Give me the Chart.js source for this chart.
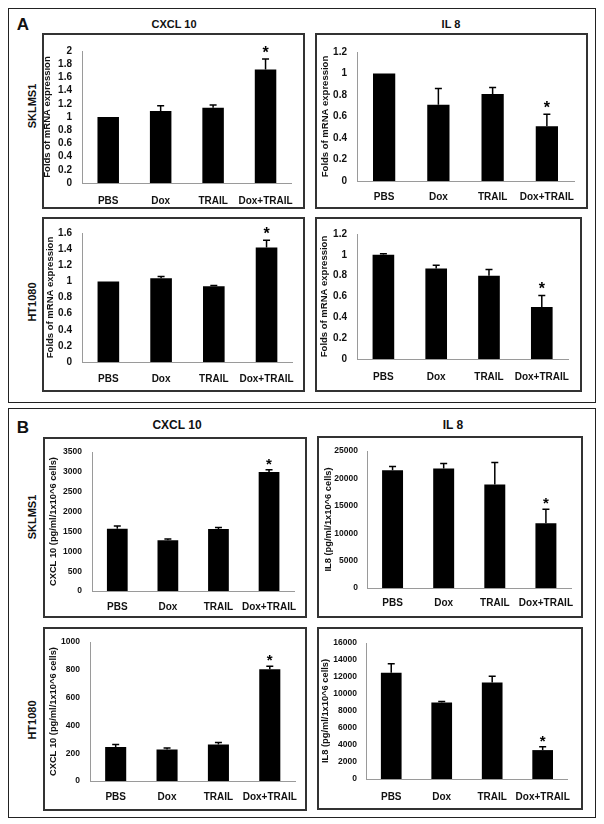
<!DOCTYPE html>
<html><head><meta charset="utf-8">
<script src="https://cdn.jsdelivr.net/npm/chart.js@4.4.0/dist/chart.umd.min.js"></script>
<style>
body{margin:0;background:#fff;width:604px;height:824px;position:relative;font-family:'Liberation Sans',Arial,sans-serif;overflow:hidden}
.frame{position:absolute;box-sizing:border-box;border:1px solid #222;}
.panel{position:absolute;box-sizing:border-box;border:2px solid #333;pointer-events:none}
canvas{position:absolute}
.txt{position:absolute;font-weight:bold;color:#111;white-space:nowrap;line-height:1;transform:translate(-50%,-50%)}
.rot{transform:translate(-50%,-50%) rotate(-90deg)}
</style></head><body>
<div class="frame" style="left:8px;top:8px;width:588px;height:395px"></div>
<div class="frame" style="left:8px;top:408px;width:588px;height:410px"></div>
<div class="txt" style="left:23px;top:24px;font-size:17px">A</div>
<div class="txt" style="left:174px;top:24px;font-size:11px">CXCL 10</div>
<div class="txt" style="left:451px;top:24px;font-size:11px">IL 8</div>
<div class="txt rot" style="left:32px;top:106px;font-size:11px">SKLMS1</div>
<div class="txt rot" style="left:32px;top:302px;font-size:11px">HT1080</div>
<div class="txt" style="left:23px;top:427px;font-size:17px">B</div>
<div class="txt" style="left:177px;top:425px;font-size:12px">CXCL 10</div>
<div class="txt" style="left:453px;top:425px;font-size:12px">IL 8</div>
<div class="txt rot" style="left:32px;top:517px;font-size:11px">SKLMS1</div>
<div class="txt rot" style="left:32px;top:720px;font-size:11px">HT1080</div>
<script>
// ---- data ----
const categories = ['PBS', 'Dox', 'TRAIL', 'Dox+TRAIL'];
const significant = [false, false, false, true];

const sklmsCxcl10Mrna    = [1.0, 1.09, 1.14, 1.72];
const sklmsCxcl10MrnaErr = [0, 0.08, 0.04, 0.16];
const sklmsIl8Mrna       = [1.0, 0.71, 0.81, 0.51];
const sklmsIl8MrnaErr    = [0, 0.15, 0.06, 0.11];
const htCxcl10Mrna       = [1.0, 1.04, 0.94, 1.42];
const htCxcl10MrnaErr    = [0, 0.02, 0.01, 0.09];
const htIl8Mrna          = [1.0, 0.87, 0.80, 0.50];
const htIl8MrnaErr       = [0.01, 0.03, 0.06, 0.11];

const sklmsCxcl10Prot    = [1570, 1280, 1560, 3000];
const sklmsCxcl10ProtErr = [70, 30, 40, 55];
const sklmsIl8Prot       = [21500, 21800, 18900, 11800];
const sklmsIl8ProtErr    = [650, 900, 4000, 2550];
const htCxcl10Prot       = [244, 226, 262, 804];
const htCxcl10ProtErr    = [18, 11, 16, 22];
const htIl8Prot          = [12500, 9000, 11350, 3400];
const htIl8ProtErr       = [1050, 120, 750, 380];

// y-axis tick ranges per panel (A1,A2,A3,A4,B1,B2,B3,B4)
const tickMax  = [2, 1.2, 1.6, 1.2, 3500, 25000, 1000, 16000];
const tickStep = [0.2, 0.2, 0.2, 0.2, 500, 5000, 200, 2000];

const mrnaTitle = 'Folds of mRNA expression';
const cxclTitle = 'CXCL 10 (pg/ml/1x10^6 cells)';
const il8Title  = 'IL8 (pg/ml/1x10^6 cells)';

// ---- layout ----
const FONT = "'Liberation Sans', Arial, sans-serif";
const panels = [
  {x:42, y:33, w:263, h:176, L:40, T:18, R:3,  B:26, tp:0,   yp:10, xp:12, vals:sklmsCxcl10Mrna, err:sklmsCxcl10MrnaErr, title:mrnaTitle, k:0, tf:9.5, yf:10, star:16},
  {x:315,y:33, w:273, h:176, L:42, T:19, R:14, B:28, tp:4.3, yp:10, xp:10, vals:sklmsIl8Mrna, err:sklmsIl8MrnaErr, title:mrnaTitle, k:1, tf:9.5, yf:10, star:16},
  {x:42, y:217,w:263, h:175, L:40, T:15, R:3,  B:30, tp:2.6, yp:10, xp:11, vals:htCxcl10Mrna, err:htCxcl10MrnaErr, title:mrnaTitle, k:2, tf:9.5, yf:10, star:16},
  {x:315,y:217,w:267, h:175, L:42, T:17, R:9,  B:33, tp:3.3, yp:10, xp:12, vals:htIl8Mrna, err:htIl8MrnaErr, title:mrnaTitle, k:3, tf:9.5, yf:10, star:16},
  {x:43, y:437,w:264, h:181, L:49, T:8,  R:7,  B:27, tp:4.6, yp:10, xp:10, vals:sklmsCxcl10Prot, err:sklmsCxcl10ProtErr, title:cxclTitle, k:4, tf:9.3, yf:8.5, star:15},
  {x:317,y:436,w:266, h:182, L:50, T:15, R:8,  B:30, tp:5.5, yp:9,  xp:9,  vals:sklmsIl8Prot, err:sklmsIl8ProtErr, title:il8Title, k:5, tf:9.3, yf:8.5, star:15},
  {x:43, y:627,w:264, h:184, L:47, T:6,  R:1,  B:30, tp:5.3, yp:10, xp:10, vals:htCxcl10Prot, err:htCxcl10ProtErr, title:cxclTitle, k:6, tf:9.3, yf:8.5, star:15},
  {x:317,y:627,w:266, h:183, L:49, T:16, R:10, B:31, tp:2.5, yp:9,  xp:12, vals:htIl8Prot, err:htIl8ProtErr, title:il8Title, k:7, tf:9.3, yf:8.5, star:15}
];

const errorPlugin = {
  id: 'errbars',
  afterDatasetsDraw(chart, args, opts) {
    const ctx = chart.ctx;
    const meta = chart.getDatasetMeta(0);
    const ys = chart.scales.y;
    const ds = chart.data.datasets[0];
    ctx.save();
    ctx.strokeStyle = '#000'; ctx.fillStyle = '#000'; ctx.lineWidth = 1.5;
    meta.data.forEach((bar, i) => {
      const e = ds.err[i];
      const top = ys.getPixelForValue(ds.data[i] + e);
      if (e > 0) {
        ctx.beginPath();
        ctx.moveTo(bar.x, bar.y); ctx.lineTo(bar.x, top);
        ctx.moveTo(bar.x - 3.5, top); ctx.lineTo(bar.x + 3.5, top);
        ctx.stroke();
      }
      if (ds.star[i]) {
        ctx.font = 'bold ' + opts.starSize + 'px ' + FONT;
        ctx.textAlign = 'center'; ctx.textBaseline = 'alphabetic';
        ctx.fillText('*', bar.x, top - 1);
      }
    });
    ctx.restore();
  }
};

panels.forEach(p => {
  const cv = document.createElement('canvas');
  cv.width = p.w; cv.height = p.h;
  cv.style.left = p.x + 'px'; cv.style.top = p.y + 'px';
  document.body.appendChild(cv);
  const bd = document.createElement('div');
  bd.className = 'panel';
  bd.style.cssText = `left:${p.x}px;top:${p.y}px;width:${p.w}px;height:${p.h}px`;
  document.body.appendChild(bd);
  new Chart(cv, {
    type: 'bar',
    data: { labels: categories, datasets: [{ data: p.vals, err: p.err, star: significant,
      backgroundColor: '#000', borderWidth: 0, barPercentage: 0.41, categoryPercentage: 1 }] },
    options: {
      responsive: false, animation: false, devicePixelRatio: 1, events: [],
      layout: { padding: { left: 0, top: p.T, right: p.R, bottom: 0 } },
      plugins: { legend: { display: false }, tooltip: { enabled: false }, errbars: { starSize: p.star } },
      scales: {
        x: {
          grid: { display: false, drawTicks: false },
          border: { display: true, color: '#9a9a9a', width: 1 },
          ticks: { padding: p.xp, color: '#111', maxRotation: 0, autoSkip: false,
                   font: { family: FONT, weight: 'bold', size: 10 } },
          afterFit(s) { s.height = p.B; }
        },
        y: {
          min: 0, max: tickMax[p.k],
          grid: { display: false, drawTicks: false },
          border: { display: true, color: '#9a9a9a', width: 1 },
          ticks: { stepSize: tickStep[p.k], autoSkip: false, padding: p.yp, color: '#111',
                   font: { family: FONT, weight: 'bold', size: p.yf },
                   format: { useGrouping: false, minimumFractionDigits: 0, maximumFractionDigits: 1 } },
          title: { display: true, text: p.title, color: '#111', padding: { top: p.tp, bottom: 0 },
                   font: { family: FONT, weight: 'bold', size: p.tf } },
          afterFit(s) { s.width = p.L; }
        }
      }
    },
    plugins: [errorPlugin]
  });
});
</script>
</body></html>
